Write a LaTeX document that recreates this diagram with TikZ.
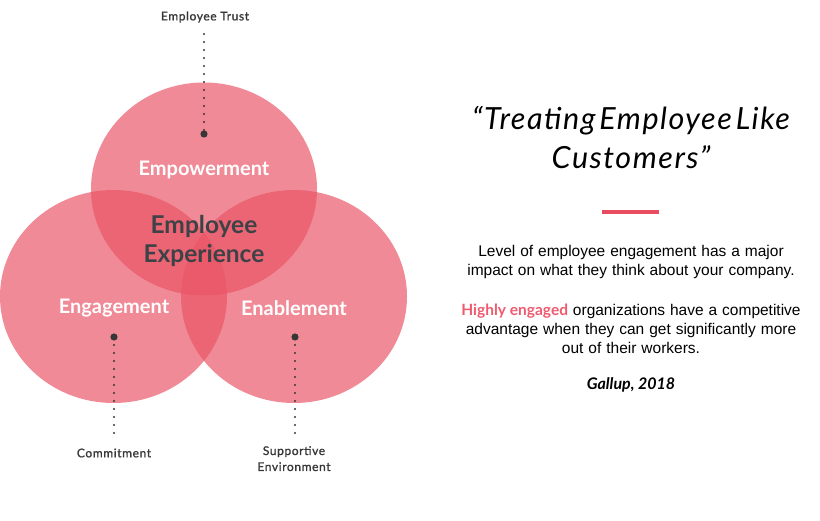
\documentclass[tikz,border=0pt]{standalone}
\usepackage{fontspec}
\setmainfont{Lato}
\newfontfamily\arialf[WordSpace=1.15]{Liberation Sans}
\newfontfamily\lblf[LetterSpace=5,FakeBold=1.2]{Lato}
\newfontfamily\titlef[LetterSpace=5,WordSpace=0.45]{Lato Italic}
\definecolor{petalc}{RGB}{233,85,103}
\definecolor{pinc}{RGB}{55,55,55}
\definecolor{eec}{RGB}{61,66,70}
\definecolor{barc}{RGB}{232,76,96}
\definecolor{hlc}{RGB}{240,90,110}
\begin{document}
\begin{tikzpicture}[x=1pt,y=-1pt,
  petal/.style={fill=petalc,fill opacity=0.69,draw=none},
  white lbl/.style={text=white,font=\bfseries\fontsize{20}{24}\selectfont,inner sep=0pt},
  small lbl/.style={text=pinc,font=\lblf\fontsize{12}{16}\selectfont,inner sep=0pt,align=center},
  dotline/.style={draw=pinc,line width=2.2pt,line cap=round,dash pattern=on 0pt off 8pt},
  pin/.style={fill=pinc},
  body/.style={font=\arialf\fontsize{15.5}{19}\selectfont,align=center,inner sep=0pt}]
\useasboundingbox (0,0) rectangle (820,521);
% circles
\fill[petal] (204,189) ellipse [x radius=113, y radius=106.5];
\fill[petal] (113.5,296.5) ellipse [x radius=113.5, y radius=106.5];
\fill[petal] (294,296.5) ellipse [x radius=113, y radius=106.5];
% labels
\node[white lbl] (emp) at (204,170) {Empowerment};
\node[white lbl] (eng) at (114,308) {Engagement};
\node[white lbl] (ena) at (294,308) {Enablement};
\node[text=eec,font=\bfseries\fontsize{24.5}{29}\selectfont,align=center,inner sep=0pt] (ee) at (204,241) {Employee\\Experience};
% pins
\node[small lbl] (trust) at (205,17) {Employee Trust};
\node[small lbl] (commit) at (114,453) {Commitment};
\node[small lbl,anchor=north] (supp) at (294,446) {Supportive\\Environment};
\coordinate (p1) at (204,134);
\coordinate (p2) at (114,337);
\coordinate (p3) at (295,337);
\coordinate (t1) at (204,34);
\coordinate (b2) at (114,437);
\coordinate (b3) at (295,437);
\fill[pin] (p1) circle (3.6);
\fill[pin] (p2) circle (3.6);
\fill[pin] (p3) circle (3.6);
\draw[dotline] (t1) -- (p1);
\draw[dotline] (p2) -- (b2);
\draw[dotline] (p3) -- (b3);
% right side
\node[font=\titlef\fontsize{30.5}{39}\selectfont,align=center,inner sep=0pt] (title) at (631,137) {“Treating Employee Like\\Customers”};
\fill[barc] (602,210) rectangle (659,214);
\node[body] (p1t) at (631,261.5) {Level of employee engagement has a major\\impact on what they think about your company.};
\node[body] (p2t) at (631,329) {{\color{hlc}\rmfamily\bfseries Highly engaged} organizations have a competitive\\advantage when they can get significantly more\\out of their workers.};
\node[font=\bfseries\itshape\fontsize{16}{19}\selectfont,inner sep=0pt] (src) at (631,385) {Gallup, 2018};
\end{tikzpicture}
\end{document}
